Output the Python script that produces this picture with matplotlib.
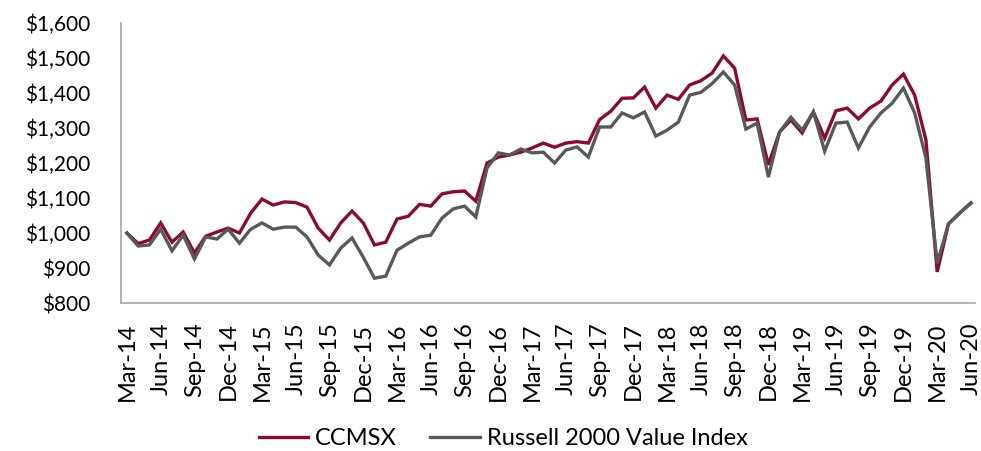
import matplotlib
matplotlib.use("Agg")
from matplotlib import pyplot as plt
from matplotlib.ticker import FuncFormatter

# monthly growth of $1,000, Mar-14 .. Jun-20
months = ["Mar", "Apr", "May", "Jun", "Jul", "Aug", "Sep", "Oct", "Nov", "Dec", "Jan", "Feb"]
start_year = 14
n_points = 76

ccmsx = [1000, 970, 980, 1029, 974, 1003, 943, 991, 1003, 1014,
         1000, 1057, 1097, 1080, 1089, 1087, 1074, 1014, 980, 1029,
         1063, 1029, 966, 974, 1040, 1048, 1082, 1077, 1112, 1118,
         1120, 1091, 1200, 1217, 1223, 1231, 1243, 1257, 1245, 1257,
         1261, 1257, 1324, 1348, 1385, 1386, 1417, 1357, 1394, 1382,
         1423, 1435, 1457, 1506, 1471, 1323, 1326, 1195, 1289, 1323,
         1286, 1346, 1271, 1349, 1357, 1326, 1357, 1377, 1423, 1454,
         1394, 1266, 889, 1026, 1057, 1086]

russell = [1000, 963, 966, 1011, 949, 994, 926, 989, 983, 1011,
           971, 1011, 1029, 1011, 1017, 1017, 989, 937, 909, 957,
           986, 931, 871, 877, 951, 971, 989, 994, 1043, 1069,
           1077, 1046, 1186, 1229, 1223, 1240, 1229, 1231, 1200, 1237,
           1246, 1217, 1303, 1303, 1343, 1329, 1346, 1277, 1294, 1317,
           1394, 1402, 1427, 1460, 1423, 1297, 1314, 1160, 1289, 1331,
           1294, 1346, 1234, 1314, 1317, 1243, 1303, 1343, 1371, 1414,
           1343, 1214, 914, 1026, 1057, 1086]

# labels like "Mar-14"
labels = []
for i in range(n_points):
    year = start_year + (i + 2) // 12
    labels.append(f"{months[i % 12]}-{year}")

plt.rcParams['font.family'] = ['Lato', 'DejaVu Sans']

fig = plt.figure(figsize=(9.81, 4.51), dpi=100)
ax = fig.add_axes([0.1233, 0.328, 0.8707, 0.621])

x = list(range(n_points))
ax.plot(x, ccmsx, color="#8b0a2e", lw=2.4, label="CCMSX", solid_joinstyle="miter")
ax.plot(x, russell, color="#595959", lw=2.4, label="Russell 2000 Value Index", solid_joinstyle="miter")

ax.set_ylim(800, 1600)
ax.set_yticks(range(800, 1601, 100))
ax.yaxis.set_major_formatter(FuncFormatter(lambda v, p: f"${v:,.0f}"))
ax.set_xlim(-0.53, 75.37)
ax.set_xticks(x[::3])
ax.set_xticklabels(labels[::3], rotation=90)

for s in ["top", "right"]:
    ax.spines[s].set_visible(False)
for s in ["left", "bottom"]:
    ax.spines[s].set_color("#a6a6a6")
    ax.spines[s].set_linewidth(1.2)

ax.tick_params(axis="y", length=0, pad=22, labelsize=15)
ax.tick_params(axis="x", length=0, pad=14, labelsize=17)

fig.legend(loc="center", bbox_to_anchor=(0.513, 0.028), ncol=2, frameon=False,
           fontsize=17, handlelength=2.1, columnspacing=1.4, handletextpad=0.3)

fig.savefig("out.png", dpi=100)
